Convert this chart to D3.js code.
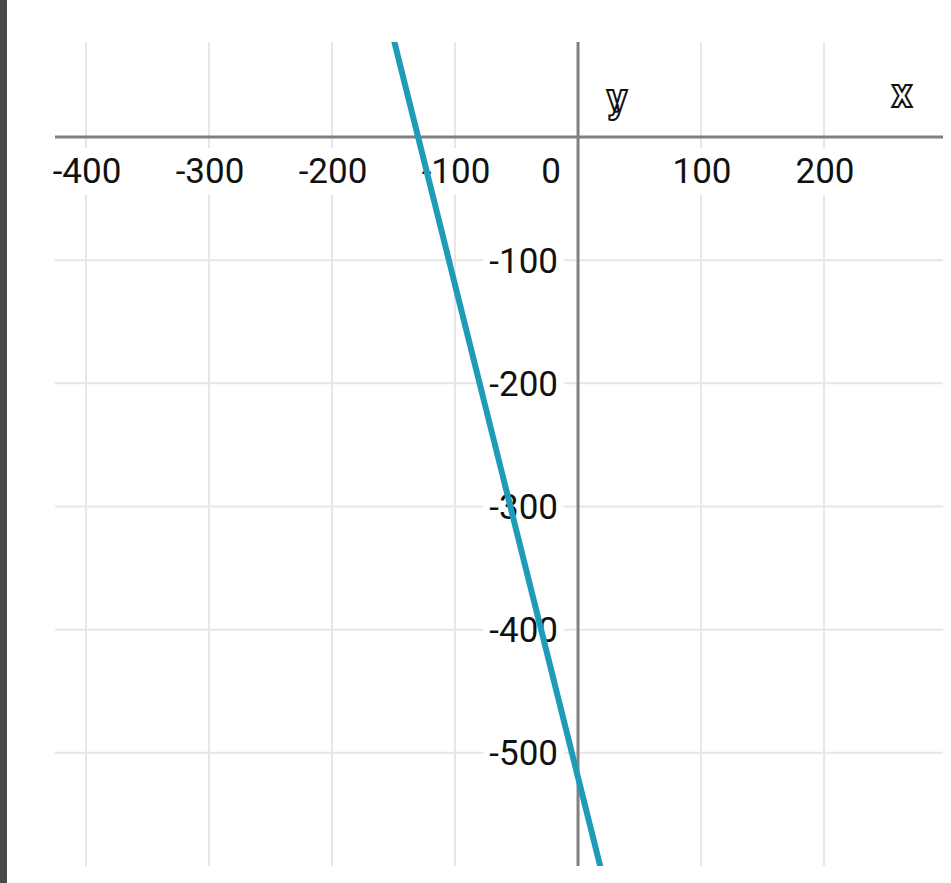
<!DOCTYPE html>
<html>
<head>
<meta charset="utf-8">
<script src="https://cdn.jsdelivr.net/npm/d3@7"></script>
<style>
  html, body { margin: 0; padding: 0; background: #fff; }
  svg { display: block; }
</style>
</head>
<body>
<svg id="chart"></svg>
<script>
// values
const xTicks = [-400, -300, -200, -100, 100, 200];
const yTicks = [-100, -200, -300, -400, -500];
const originLabel = "0";
const xDomain = [-425.2, 296.7];
const yDomain = [-591.9, 77.2];
const linePoints = [[-150, 80], [20, -600]];   // y = -4x - 520
const axisNames = ["x", "y"];

const width = 951;
const height = 883;

const svg = d3.select("#chart")
    .attr("width", width)
    .attr("height", height);

const x = d3.scaleLinear().domain(xDomain).range([55, 943]);
const y = d3.scaleLinear().domain(yDomain).range([866, 42]);

// dark strip on the left edge
svg.append("rect")
    .attr("x", 0).attr("y", 0)
    .attr("width", 7).attr("height", height)
    .attr("fill", "#4a4a4a");

svg.append("clipPath").attr("id", "plot")
    .append("rect")
    .attr("x", x.range()[0]).attr("y", y.range()[1])
    .attr("width", x.range()[1] - x.range()[0])
    .attr("height", y.range()[0] - y.range()[1]);

// grid
const grid = svg.append("g").attr("stroke", "#e6e6e6").attr("stroke-width", 2);
grid.selectAll("line.v")
    .data(xTicks)
    .join("line")
    .attr("class", "v")
    .attr("x1", d => x(d)).attr("x2", d => x(d))
    .attr("y1", y.range()[1]).attr("y2", y.range()[0]);
grid.selectAll("line.h")
    .data(yTicks)
    .join("line")
    .attr("class", "h")
    .attr("x1", x.range()[0]).attr("x2", x.range()[1])
    .attr("y1", d => y(d)).attr("y2", d => y(d));

// axes
const axes = svg.append("g").attr("stroke", "#808080").attr("stroke-width", 3);
axes.append("line")
    .attr("x1", x.range()[0]).attr("x2", x.range()[1])
    .attr("y1", y(0)).attr("y2", y(0));
axes.append("line")
    .attr("x1", x(0)).attr("x2", x(0))
    .attr("y1", y.range()[1]).attr("y2", y.range()[0]);

// tick labels with white backing
const labels = svg.append("g")
    .attr("font-family", "Roboto, sans-serif")
    .attr("font-size", 35)
    .attr("fill", "#111");

const xl = labels.selectAll("g.xl")
    .data(xTicks)
    .join("g")
    .attr("class", "xl");
xl.append("text")
    .attr("x", d => x(d) + 1)
    .attr("y", y(0) + 46)
    .attr("text-anchor", "middle")
    .text(d => d);

const yl = labels.selectAll("g.yl")
    .data(yTicks)
    .join("g")
    .attr("class", "yl");
yl.append("text")
    .attr("x", x(0) - 20)
    .attr("y", d => y(d))
    .attr("dy", "0.36em")
    .attr("text-anchor", "end")
    .text(d => d);

labels.append("g").attr("class", "ol")
    .append("text")
    .attr("x", x(0) - 27)
    .attr("y", y(0) + 46)
    .attr("text-anchor", "middle")
    .text(originLabel);

labels.selectAll("g").each(function() {
    const g = d3.select(this);
    const b = g.select("text").node().getBBox();
    g.insert("rect", "text")
        .attr("x", b.x - 6).attr("y", b.y - 3)
        .attr("width", b.width + 12).attr("height", b.height + 6)
        .attr("fill", "#fff");
});

// the line
svg.append("path")
    .datum(linePoints)
    .attr("clip-path", "url(#plot)")
    .attr("fill", "none")
    .attr("stroke", "#1e9bb8")
    .attr("stroke-width", 6)
    .attr("d", d3.line().x(d => x(d[0])).y(d => y(d[1])));

// outlined axis names
svg.selectAll("text.name")
    .data(axisNames)
    .join("text")
    .attr("class", "name")
    .attr("x", d => d === "x" ? 902 : 617)
    .attr("y", d => d === "x" ? 107 : 112)
    .attr("text-anchor", "middle")
    .attr("font-family", "Roboto, sans-serif")
    .attr("font-weight", "bold")
    .attr("font-size", 40)
    .attr("fill", "#fff")
    .attr("stroke", "#111")
    .attr("stroke-width", 2)
    .text(d => d);
</script>
</body>
</html>
